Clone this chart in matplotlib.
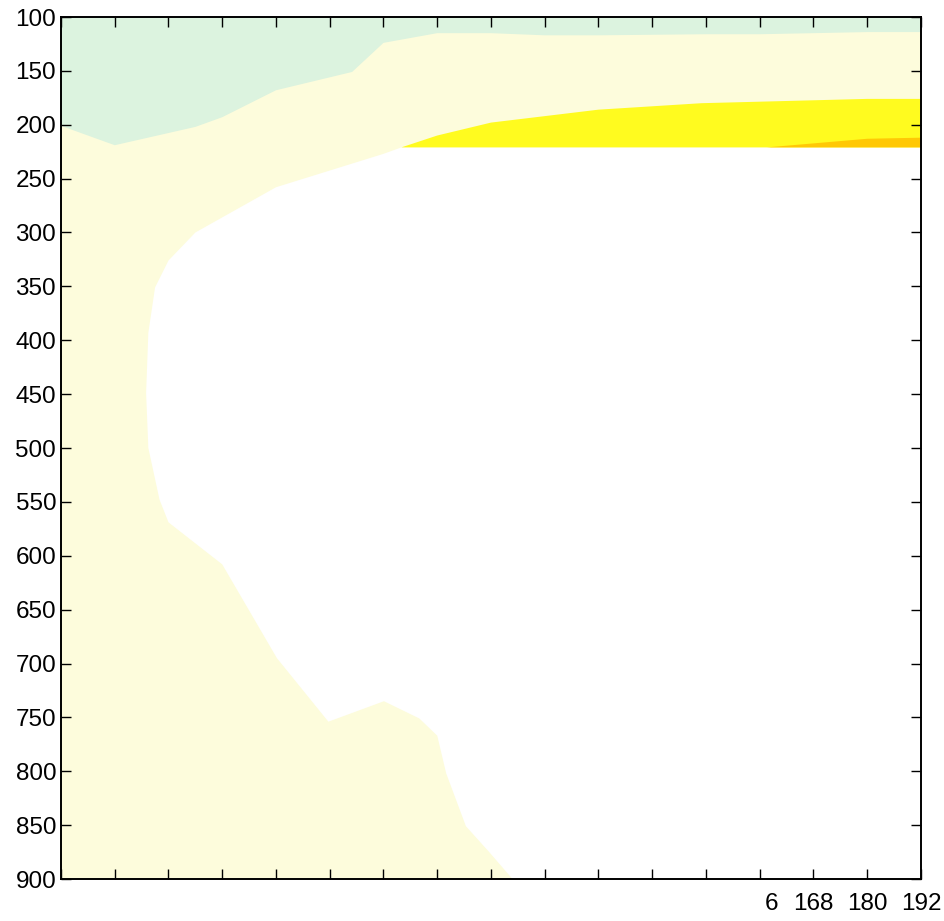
import numpy as np
import matplotlib.pyplot as plt
import matplotlib.transforms as mtransforms

plt.rcParams['font.family'] = ['Liberation Sans', 'DejaVu Sans']

# contour boundaries (x, pressure)
green_x = [0, 12, 30, 36, 48, 65, 72, 84, 96, 108, 120, 144, 156, 168, 180, 192]
green_p = [201, 219, 202, 193, 168, 151, 124, 115, 115, 117, 117, 116, 116, 115, 114, 114]

white_x = [76, 72, 48, 36, 30, 24, 21, 19.5, 19, 19.5, 22, 24, 36, 48.2, 59.7, 72.1, 80, 84, 86, 90.4, 95.6, 100.8]
white_p = [221, 227, 258, 286, 300, 326, 351, 393, 449, 500, 548, 569, 608, 695, 754, 735, 751, 767, 802, 851, 875, 900]

yellow_x = [76, 84, 91, 96, 120, 143, 180, 192]
yellow_p = [221, 210, 203, 198, 186, 180, 176, 176]

orange_x = [157.6, 180, 192]
orange_p = [221, 213, 212]

data_bottom = 221
xticks = np.arange(0, 193, 12)
yticks = np.arange(100, 901, 50)

fig = plt.figure(figsize=(9.44, 9.21), dpi=100)
ax = fig.add_axes([61/944, 1 - 879/921, 860/944, 862/921])

# light yellow band
ly_x = [0, 192, 192] + white_x + [0]
ly_p = [100, 100, data_bottom] + white_p + [900]
ax.fill(ly_x, ly_p, color='#fdfcdc', lw=0)

# green top band
gx = [0, 192] + green_x[::-1]
gp = [100, 100] + green_p[::-1]
ax.fill(gx, gp, color='#dcf3df', lw=0)

# yellow
ax.fill(yellow_x + [192], yellow_p + [data_bottom], color='#fffb1f', lw=0)

# orange
ax.fill(orange_x + [192], orange_p + [data_bottom], color='#ffc805', lw=0)

ax.set_xlim(0, 192)
ax.set_ylim(900, 100)
ax.set_xticks(xticks)
ax.set_yticks(yticks)
labels = [''] * len(xticks)
labels[-4:] = ['6', '168', '180', '192']
ax.set_xticklabels(labels)
ax.tick_params(direction='in', length=7.5, width=1, top=True, right=True, labelsize=17.5)
ax.tick_params(axis='x', pad=10)
ax.tick_params(axis='y', pad=3.5)
for s in ax.spines.values():
    s.set_linewidth(1.4)

off = mtransforms.ScaledTranslation(0.12, 0, fig.dpi_scale_trans)
lab = ax.get_xticklabels()[-4]
lab.set_transform(lab.get_transform() + off)

fig.savefig('out.png', dpi=100)
